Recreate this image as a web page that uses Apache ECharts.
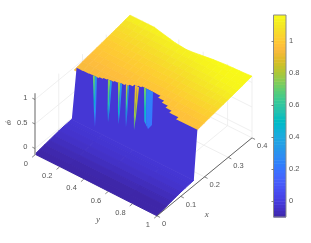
<!DOCTYPE html>
<html>
<head>
<meta charset="utf-8">
<style>html,body{margin:0;padding:0;background:#fff}#chart{width:311px;height:243px}</style>
<script src="https://cdn.jsdelivr.net/npm/echarts@6/dist/echarts.min.js"></script>
</head>
<body>
<div id="chart"></div>
<script>
// ---------- tick labels ----------
const xTicks = [0, 0.1, 0.2, 0.3, 0.4];
const yTicks = [0, 0.2, 0.4, 0.6, 0.8, 1];
const zTicks = [0, 0.5, 1];
const colorbarTicks = [0, 0.2, 0.4, 0.6, 0.8, 1];
const colorMin = -0.1, colorMax = 1.1625;
const zFloor = -0.13, zCeil = 1.13;

// ---------- low (blue) region, x from 0 to the foot of the front ----------
const blueX = [0, 0.02, 0.04, 0.06, 0.08, 0.1, 0.12, 0.14, 0.155];
const blueY = [0, 0.25, 0.5, 0.75, 1];
const blueZ = [
  [-0.115, -0.115, -0.12, -0.125, -0.13],
  [-0.1, -0.1, -0.105, -0.11, -0.11],
  [-0.085, -0.085, -0.09, -0.09, -0.095],
  [-0.07, -0.07, -0.07, -0.075, -0.075],
  [-0.055, -0.055, -0.055, -0.06, -0.06],
  [-0.04, -0.04, -0.04, -0.04, -0.045],
  [-0.03, -0.03, -0.03, -0.03, -0.035],
  [-0.025, -0.025, -0.025, -0.025, -0.025],
  [-0.02, -0.02, -0.02, -0.02, -0.02]
];

// ---------- high (yellow) plateau ----------
const plateauX = [0.165, 0.18, 0.2, 0.22, 0.24, 0.26, 0.28, 0.3, 0.32, 0.34, 0.36, 0.38, 0.4];
const plateauY = [0, 0.05, 0.1, 0.15, 0.2, 0.25, 0.3, 0.35, 0.4, 0.45, 0.5, 0.55, 0.6, 0.65, 0.7, 0.75, 0.8, 0.85, 0.9, 0.95, 1];
const plateauHeight = [0.945, 0.955, 0.975, 0.99, 1.005, 1.02, 1.035, 1.05, 1.065, 1.08, 1.095, 1.115, 1.13];
const farEdgeX = [0.4, 0.4, 0.4, 0.4, 0.4, 0.396, 0.392, 0.388, 0.384, 0.382, 0.38, 0.382, 0.385, 0.388, 0.391, 0.393, 0.395, 0.396, 0.397, 0.398, 0.4];
const plateauValue = [
  [0.94, 0.94, 0.94, 0.95, 0.95, 0.95, 0.95, 0.95, 0.96, 0.96, 0.96, 0.96, 0.96, 0.96, 0.96, 0.97, 0.97, 0.97, 0.97, 0.97, 0.97],
  [0.94, 0.94, 0.95, 0.95, 0.95, 0.95, 0.95, 0.96, 0.96, 0.96, 0.96, 0.96, 0.96, 0.97, 0.97, 0.97, 0.97, 0.97, 0.97, 0.98, 0.98],
  [0.95, 0.95, 0.95, 0.95, 0.96, 0.96, 0.96, 0.96, 0.96, 0.96, 0.97, 0.97, 0.97, 0.97, 0.97, 0.98, 0.98, 0.98, 0.98, 0.99, 0.99],
  [0.96, 0.96, 0.97, 0.97, 0.97, 0.97, 0.97, 0.98, 0.98, 0.98, 0.98, 0.98, 0.99, 0.99, 0.99, 1.00, 1.00, 1.00, 1.01, 1.01, 1.01],
  [0.98, 0.98, 0.98, 0.98, 0.99, 0.99, 0.99, 0.99, 0.99, 1.00, 1.00, 1.00, 1.00, 1.01, 1.01, 1.02, 1.02, 1.02, 1.03, 1.03, 1.03],
  [0.99, 0.99, 1.00, 1.00, 1.00, 1.00, 1.01, 1.01, 1.01, 1.01, 1.02, 1.02, 1.02, 1.03, 1.03, 1.04, 1.04, 1.05, 1.05, 1.05, 1.06],
  [1.005, 1.005, 1.005, 1.015, 1.015, 1.015, 1.015, 1.025, 1.025, 1.025, 1.035, 1.035, 1.035, 1.045, 1.055, 1.055, 1.065, 1.065, 1.075, 1.075, 1.075],
  [1.02, 1.02, 1.02, 1.03, 1.03, 1.03, 1.04, 1.04, 1.04, 1.05, 1.05, 1.05, 1.06, 1.06, 1.07, 1.08, 1.08, 1.09, 1.09, 1.10, 1.10],
  [1.035, 1.035, 1.045, 1.045, 1.045, 1.055, 1.055, 1.055, 1.065, 1.065, 1.075, 1.075, 1.075, 1.085, 1.095, 1.095, 1.105, 1.115, 1.115, 1.125, 1.125],
  [1.055, 1.055, 1.055, 1.065, 1.065, 1.065, 1.075, 1.075, 1.085, 1.085, 1.095, 1.095, 1.095, 1.105, 1.115, 1.115, 1.125, 1.135, 1.135, 1.14, 1.14],
  [1.07, 1.07, 1.08, 1.08, 1.08, 1.09, 1.10, 1.10, 1.11, 1.11, 1.12, 1.12, 1.12, 1.13, 1.13, 1.14, 1.14, 1.15, 1.15, 1.15, 1.15],
  [1.09, 1.09, 1.10, 1.10, 1.11, 1.11, 1.12, 1.12, 1.13, 1.13, 1.13, 1.13, 1.14, 1.14, 1.14, 1.15, 1.15, 1.15, 1.15, 1.15, 1.15],
  [1.14, 1.14, 1.14, 1.14, 1.14, 1.14, 1.15, 1.15, 1.15, 1.15, 1.15, 1.15, 1.15, 1.16, 1.16, 1.16, 1.16, 1.16, 1.16, 1.16, 1.16]
];

// ---------- the steep front between the two levels ----------
const frontY = [0, 0.025, 0.05, 0.075, 0.1, 0.125, 0.15, 0.175, 0.2, 0.225, 0.25, 0.275, 0.3, 0.325, 0.35, 0.375, 0.4, 0.425, 0.45, 0.475, 0.5, 0.525, 0.55, 0.575, 0.6, 0.625, 0.65, 0.675, 0.7, 0.725, 0.75, 0.775, 0.8, 0.825, 0.85, 0.875, 0.9, 0.925, 0.95, 0.975, 1];
const frontTopX = [0.175, 0.175, 0.176, 0.176, 0.177, 0.178, 0.178, 0.182, 0.186, 0.188, 0.19, 0.193, 0.195, 0.197, 0.2, 0.206, 0.213, 0.216, 0.22, 0.22, 0.22, 0.22, 0.22, 0.22, 0.21, 0.21, 0.2, 0.2, 0.19, 0.19, 0.18, 0.18, 0.18, 0.17, 0.17, 0.17, 0.17, 0.17, 0.17, 0.17, 0.17];
const frontTopZ = 0.95, frontFootX = 0.155, frontFootZ = -0.02, frontValue = -0.02;

// ---------- the narrow fingers cut into the front ----------
const fingerTopX = [0.178, 0.188, 0.196, 0.2, 0.213, 0.22];
const fingerLeftY = [0.128, 0.232, 0.299, 0.356, 0.405, 0.465];
const fingerRightY = [0.161, 0.265, 0.332, 0.381, 0.438, 0.539];
const fingerTipY = [0.18, 0.287, 0.373, 0.434, 0.5, 0.615];
const fingerTipZ = [0.027, 0.26, 0.327, 0.343, 0.363, 0.527];
const fingerSplit = [0.5, 0.55, 0.55, 0.6, 0.5, 0.25];
const fingerShoulder = [0.7, 0.7, 0.7, 0.7, 0.7, 0.85];
const fingerShoulderWidth = [0.5, 0.5, 0.5, 0.5, 0.5, 0.85];
const fingerLeftTopValue = [0.75, 0.78, 0.85, 0.9, 0.95, 0.75];
const fingerLeftTipValue = [0.22, 0.42, 0.35, 0.3, 0.7, 0.3];
const fingerRightTopValue = [0.35, 0.35, 0.35, 0.42, 0.92, 0.25];
const fingerRightTipValue = [0.15, 0.28, 0.25, 0.22, 0.68, 0.2];

// ---------- colour map ----------
const parula = [[.2422,.1504,.6603],[.2504,.165,.7076],[.2578,.1818,.7511],[.2647,.1978,.7952],[.2706,.2147,.8364],[.2751,.2342,.871],[.2783,.2559,.8991],[.2803,.2782,.9221],[.2813,.3006,.9414],[.281,.3228,.9579],[.2795,.3447,.9717],[.276,.3667,.9829],[.2699,.3892,.9906],[.2602,.4123,.9952],[.244,.4358,.9988],[.2206,.4603,.9973],[.1963,.4847,.9892],[.1834,.5074,.9798],[.1786,.5289,.9682],[.1764,.5499,.952],[.1687,.5703,.9359],[.154,.5902,.9218],[.146,.6091,.9079],[.138,.6276,.8973],[.1248,.6459,.8883],[.1113,.6635,.8763],[.0952,.6798,.8598],[.0689,.6948,.8394],[.0297,.7082,.8163],[.0036,.7203,.7917],[.0067,.7312,.766],[.0433,.7411,.7394],[.0964,.75,.712],[.1408,.7584,.6842],[.1717,.767,.6554],[.1938,.7758,.6251],[.2161,.7843,.5923],[.247,.7918,.5567],[.2906,.7973,.5188],[.3406,.8008,.4789],[.3909,.8029,.4354],[.4456,.8024,.3909],[.5044,.7993,.348],[.5616,.7942,.3045],[.6174,.7876,.2612],[.672,.7793,.2227],[.7242,.7698,.191],[.7738,.7598,.1646],[.8203,.7498,.1535],[.8634,.7406,.1596],[.9035,.733,.1774],[.9393,.7288,.21],[.9728,.7298,.2394],[.9956,.7434,.2371],[.997,.7659,.2199],[.9952,.7893,.2028],[.9892,.8136,.1885],[.9786,.8386,.1766],[.9676,.8639,.1643],[.961,.889,.1537],[.9597,.9135,.1423],[.9628,.9373,.1265],[.9691,.9606,.1064],[.9769,.9839,.0805]];
function colorOf(v) {
  const t = Math.max(0, Math.min(1, (v - colorMin) / (colorMax - colorMin))) * (parula.length - 1);
  const i = Math.min(parula.length - 2, Math.floor(t)), f = t - i;
  const c = parula[i].map((a, k) => Math.round(255 * (a + (parula[i + 1][k] - a) * f)));
  return 'rgb(' + c.join(',') + ')';
}

// ---------- orthographic view of the box ----------
const view = { u0: 35, v0: 148.5, ux: 237.5, vx: -195, uy: 122, vy: 61, vz: -49 };
function project(p) {
  return [view.u0 + view.ux * p[0] + view.uy * p[1], view.v0 + view.vx * p[0] + view.vy * p[1] + view.vz * p[2]];
}

// ---------- paint list, back to front ----------
const items = [];
const GRID = '#ebebeb', AXIS = '#666', ZAXIS = '#aaaaaa', TEXT = '#555';
const FONT = "7.5px 'Liberation Sans', Arial, sans-serif";
const SERIF = "italic 9px 'Liberation Serif', serif";
function line(a, b, color, width) { items.push({ kind: 'line', a, b, color, width }); }
function poly(pts, fill, edge) { items.push({ kind: 'poly', pts, fill, edge }); }
function label(p, dx, dy, text, align, font, rotate) { items.push({ kind: 'text', p, dx, dy, text, align, font: font || FONT, rotate: rotate || 0 }); }

// gridlines on the floor and the two back walls
xTicks.forEach(x => {
  line([x, 0, zFloor], [x, 1, zFloor], GRID, 0.8);
  line([x, 0, zFloor], [x, 0, zCeil], GRID, 0.8);
});
yTicks.forEach(y => {
  line([0, y, zFloor], [0.4, y, zFloor], GRID, 0.8);
  line([0.4, y, zFloor], [0.4, y, zCeil], GRID, 0.8);
});
zTicks.forEach(z => {
  line([0, 0, z], [0.4, 0, z], GRID, 0.8);
  line([0.4, 0, z], [0.4, 1, z], GRID, 0.8);
});

// plateau (far rows first)
for (let i = plateauX.length - 2; i >= 0; i--) {
  for (let j = 0; j < plateauY.length - 1; j++) {
    const px = (r, c) => Math.min(plateauX[r], farEdgeX[c]);
    const v = (plateauValue[i][j] + plateauValue[i + 1][j] + plateauValue[i][j + 1] + plateauValue[i + 1][j + 1]) / 4;
    poly([
      [px(i, j), plateauY[j], plateauHeight[i]],
      [px(i + 1, j), plateauY[j], plateauHeight[i + 1]],
      [px(i + 1, j + 1), plateauY[j + 1], plateauHeight[i + 1]],
      [px(i, j + 1), plateauY[j + 1], plateauHeight[i]]
    ], colorOf(v), 0.7);
  }
}
// the front wall, one outline with a stepped top
const wallOutline = [[frontFootX, frontY[0], frontFootZ]];
for (let j = 0; j < frontY.length - 1; j++) {
  wallOutline.push([frontTopX[j], frontY[j], frontTopZ], [frontTopX[j], frontY[j + 1], frontTopZ]);
}
wallOutline.push([frontFootX, frontY[frontY.length - 1], frontFootZ]);
poly(wallOutline, colorOf(frontValue), 0);

// low region, in front of the wall's foot
for (let i = blueX.length - 2; i >= 0; i--) {
  for (let j = 0; j < blueY.length - 1; j++) {
    const v = (blueZ[i][j] + blueZ[i + 1][j] + blueZ[i][j + 1] + blueZ[i + 1][j + 1]) / 4;
    poly([
      [blueX[i], blueY[j], blueZ[i][j]],
      [blueX[i + 1], blueY[j], blueZ[i + 1][j]],
      [blueX[i + 1], blueY[j + 1], blueZ[i + 1][j + 1]],
      [blueX[i], blueY[j + 1], blueZ[i][j + 1]]
    ], colorOf(v), 1);
  }
}

// fingers, each a left and a right sliver
function gradientStops(top, tip) {
  const stops = [];
  for (let s = 0; s <= 6; s++) stops.push({ offset: s / 6, color: colorOf(top + (tip - top) * s / 6) });
  return { type: 'linear', x: 0, y: 0, x2: 0, y2: 1, colorStops: stops };
}
fingerTopX.forEach((tx, k) => {
  const yl = fingerLeftY[k], yr = fingerRightY[k], mid = yl + (yr - yl) * fingerSplit[k];
  const tipX = 0.16, tipY = fingerTipY[k], tipZ = fingerTipZ[k], s = fingerShoulder[k], w = fingerShoulderWidth[k];
  const cy = (yl + yr) / 2;
  const shoulder = (y) => [tx + (tipX - tx) * s, cy + (tipY - cy) * s + (y - cy) * w, frontTopZ + (tipZ - frontTopZ) * s];
  poly([[tx, yl, frontTopZ], [tx, mid, frontTopZ], shoulder(mid), [tipX, tipY, tipZ], shoulder(yl)], gradientStops(fingerLeftTopValue[k], fingerLeftTipValue[k]), 0);
  poly([[tx, mid, frontTopZ], [tx, yr, frontTopZ], shoulder(yr), [tipX, tipY, tipZ], shoulder(mid)], gradientStops(fingerRightTopValue[k], fingerRightTipValue[k]), 0);
});

// axes, ticks and labels
line([0, 0, zFloor], [0, 0, zCeil], ZAXIS, 1.8);
line([0, 1, zFloor], [0.4, 1, zFloor], AXIS, 1);
xTicks.forEach(x => {
  line([x, 1, zFloor], [x, 1.025, zFloor], AXIS, 0.8);
  label([x, 1, zFloor], 5, 8.5, String(x), 'left');
});
yTicks.forEach(y => {
  line([0, y, zFloor], [-0.012, y, zFloor], AXIS, 0.8);
  label([0, y, zFloor], -7, 9, String(y), 'right');
});
zTicks.forEach(z => {
  line([0, 0, z], [0, -0.022, z], AXIS, 0.8);
  label([0, 0, z], -7.5, -1.5, String(z), 'right');
});
label([0.1, 1, zFloor], 26, 18.5, 'x', 'center', SERIF);
label([0, 0.5, zFloor], 2, 34.5, 'y', 'center', SERIF);
label([0, 0, 0.5], -26, -1.5, 'φ', 'center', SERIF, -Math.PI / 2);

// ---------- chart ----------
const colorbarBands = parula.map((_, i) => [colorMin + (colorMax - colorMin) * i / parula.length, colorMin + (colorMax - colorMin) * (i + 1) / parula.length]);

const chart = echarts.init(document.getElementById('chart'), null, { renderer: 'canvas' });
chart.setOption({
  animation: false,
  backgroundColor: '#fff',
  grid: [
    { left: 0, top: 0, width: 311, height: 243, show: false },
    { left: 273.5, top: 15, width: 12.5, height: 202, show: true, borderColor: '#8a8a8a', borderWidth: 1, backgroundColor: 'transparent', z: 5 }
  ],
  xAxis: [
    { type: 'value', gridIndex: 0, min: 0, max: 311, show: false },
    { type: 'value', gridIndex: 1, min: 0, max: 1, show: false }
  ],
  yAxis: [
    { type: 'value', gridIndex: 0, min: 0, max: 243, inverse: true, show: false },
    {
      type: 'value', gridIndex: 1, min: colorMin, max: colorMax, position: 'right', z: 6,
      axisLine: { show: false },
      splitLine: { show: false },
      axisTick: { show: true, inside: true, length: 2, lineStyle: { color: '#666', width: 0.8 }, customValues: colorbarTicks },
      axisLabel: { show: true, margin: 3, fontSize: 7.5, fontFamily: "'Liberation Sans', Arial, sans-serif", color: TEXT, customValues: colorbarTicks, formatter: v => String(v) }
    }
  ],
  series: [
    {
      type: 'custom', xAxisIndex: 0, yAxisIndex: 0, silent: true, clip: false, progressive: 0,
      data: items.map((_, i) => [i, i]),
      renderItem(params, api) {
        const it = items[params.dataIndex];
        if (it.kind === 'poly') {
          const points = it.pts.map(p => api.coord(project(p)));
          const edge = it.edge || 0;
          return { type: 'polygon', shape: { points }, style: { fill: it.fill, stroke: edge ? it.fill : null, lineWidth: edge } };
        }
        if (it.kind === 'line') {
          const a = api.coord(project(it.a)), b = api.coord(project(it.b));
          return { type: 'line', shape: { x1: a[0], y1: a[1], x2: b[0], y2: b[1] }, style: { stroke: it.color, lineWidth: it.width, fill: null } };
        }
        const c = api.coord(project(it.p));
        return {
          type: 'text', x: c[0] + it.dx, y: c[1] + it.dy, rotation: it.rotate,
          style: { x: 0, y: 0, text: it.text, font: it.font, fill: TEXT, align: it.align, verticalAlign: 'middle' }
        };
      }
    },
    {
      type: 'custom', xAxisIndex: 1, yAxisIndex: 1, silent: true, progressive: 0, z: 2,
      data: colorbarBands.map(b => [0, b[0], 1, b[1]]),
      encode: { x: [0, 2], y: [1, 3] },
      renderItem(params, api) {
        const a = api.coord([api.value(0), api.value(1)]);
        const b = api.coord([api.value(2), api.value(3)]);
        return {
          type: 'rect',
          shape: { x: a[0], y: b[1], width: b[0] - a[0], height: a[1] - b[1] + 0.5 },
          style: { fill: colorOf((api.value(1) + api.value(3)) / 2) }
        };
      }
    }
  ]
});
</script>
</body>
</html>
